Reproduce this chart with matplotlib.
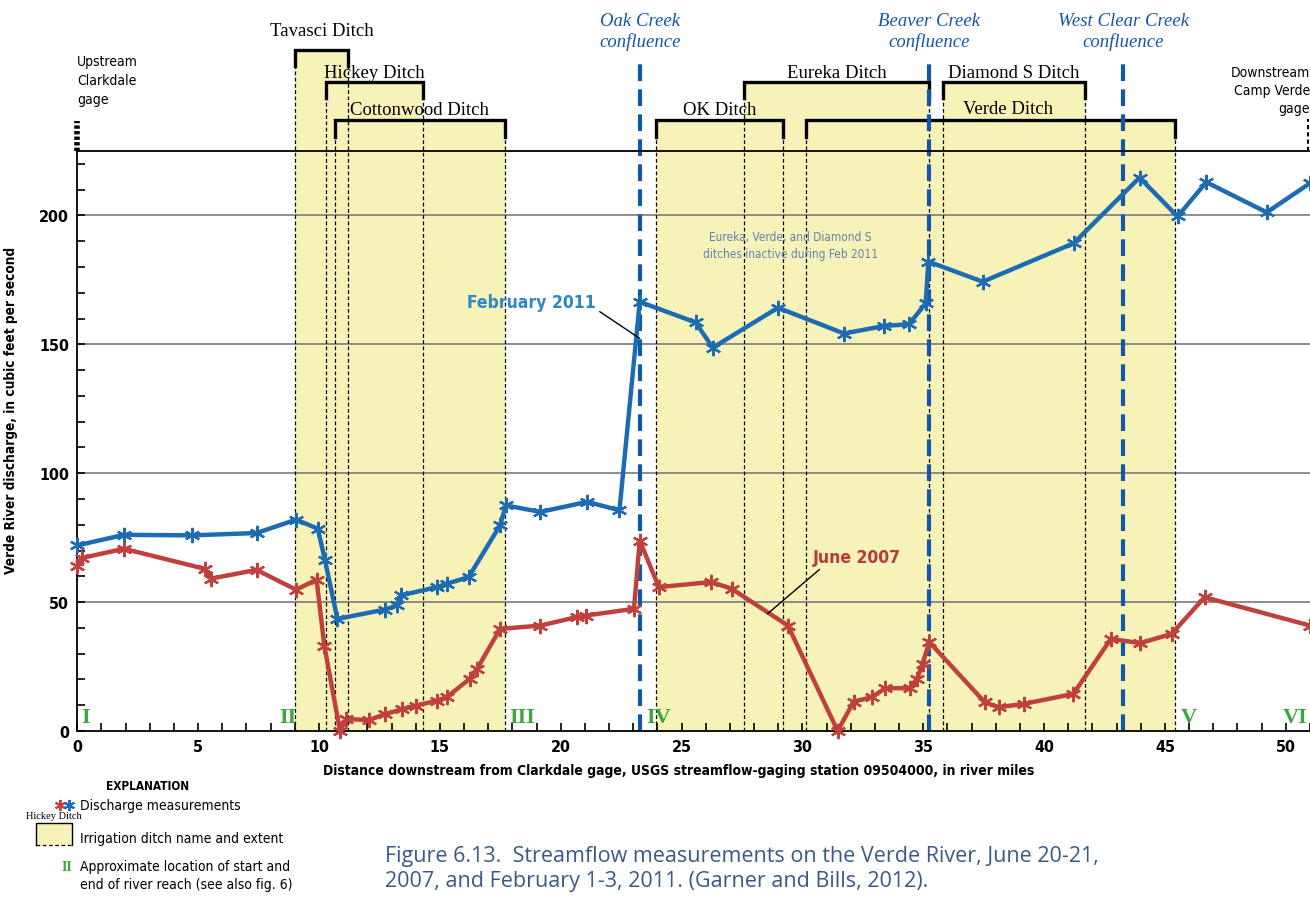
import matplotlib
matplotlib.use("Agg")
import matplotlib.pyplot as plt
from matplotlib.lines import Line2D
from matplotlib.patches import Rectangle
from matplotlib.ticker import MultipleLocator

# condensed sans for the axis text, serif for ditch / confluence names
plt.rcParams['font.family'] = ['DejaVu Sans']
plt.rcParams['font.stretch'] = 'condensed'
SERIF = ['Liberation Serif', 'DejaVu Serif']

# Discharge measurements, river miles downstream of the Clarkdale gage
feb_miles = [0, 1.93, 4.73, 7.42, 9.05, 9.95, 10.25, 10.76, 12.73, 13.22, 13.38,
             14.88, 15.28, 16.19, 17.49, 17.73, 19.16, 21.1, 22.43, 23.27, 25.58,
             26.29, 28.99, 31.72, 33.36, 34.41, 35.1, 35.21, 37.46, 41.22, 43.95,
             45.52, 46.71, 49.21, 51.0]
feb_cfs = [72.0, 76.1, 75.9, 76.8, 82.0, 78.5, 66.2, 43.5, 47.1, 48.7, 52.6,
           55.8, 57.1, 59.7, 79.8, 87.5, 85.0, 88.9, 85.6, 166.5, 158.5,
           148.7, 164.2, 154.2, 157.1, 157.8, 165.9, 182.1, 174.3, 189.2, 214.7,
           199.6, 212.9, 201.2, 212.5]

jun_miles = [0, 0.18, 1.93, 5.28, 5.52, 7.42, 9.05, 9.9, 10.22, 10.87, 11.12,
             12.05, 12.73, 13.45, 14.0, 14.88, 15.28, 16.23, 16.54, 17.49, 19.16,
             20.66, 21.05, 23.03, 23.27, 24.06, 26.22, 27.07, 29.4, 31.46, 32.12,
             32.87, 33.43, 34.46, 34.74, 34.97, 35.25, 37.55, 38.12, 39.15, 41.21,
             42.76, 43.98, 45.28, 46.64, 51.0]
jun_cfs = [64.2, 67.1, 70.7, 62.9, 59.1, 62.5, 54.8, 58.7, 33.1, 0.0, 4.7,
           4.2, 6.5, 8.5, 9.8, 11.8, 13.1, 20.2, 24.1, 39.6, 40.9,
           44.2, 44.8, 47.4, 73.9, 55.8, 57.8, 55.2, 40.9, 0.0, 11.4,
           13.1, 16.6, 16.6, 20.2, 26.0, 34.5, 11.1, 9.2, 10.5, 14.4,
           35.7, 34.1, 37.7, 51.9, 40.9]

# Irrigation ditches (start / end river mile)
ditch_names = ["Tavasci Ditch", "Hickey Ditch", "Cottonwood Ditch", "OK Ditch",
               "Eureka Ditch", "Diamond S Ditch", "Verde Ditch"]
ditch_start = [9.0, 10.3, 10.65, 23.95, 27.6, 35.8, 30.15]
ditch_end = [11.2, 14.3, 17.7, 29.2, 35.22, 41.7, 45.4]

# Tributary confluences
confluence_names = ["Oak Creek", "Beaver Creek", "West Clear Creek"]
confluence_miles = [23.27, 35.24, 43.27]

# River reach markers
reach_names = ["I", "II", "III", "IV", "V", "VI"]
reach_miles = [0.35, 8.7, 18.4, 24.05, 46.0, 50.4]

BLUE = "#1D6CB3"
RED = "#C0403E"
YELLOW = "#F7F2B8"
CONF_BLUE = "#1257AE"
GREEN = "#3AA83A"

fig = plt.figure(figsize=(13.1, 9.03), dpi=100)
ax = fig.add_axes([77.3 / 1310, 171 / 903, 1232.7 / 1310, 580 / 903])
ax.set_xlim(0, 51)
ax.set_ylim(0, 225)
tr = ax.get_xaxis_transform()

# ditch bracket tiers in axes fraction: top of bracket, text centre
tier_top = [1.175, 1.119, 1.053, 1.053, 1.119, 1.119, 1.053]
tier_text = [1.207, 1.136, 1.071, 1.071, 1.136, 1.136, 1.074]
leg = 0.028
for i, name in enumerate(ditch_names):
    s, e, top = ditch_start[i], ditch_end[i], tier_top[i]
    ax.add_patch(Rectangle((s, 0), e - s, top, transform=tr, facecolor=YELLOW,
                           edgecolor='none', clip_on=False, zorder=0.1))
for i, name in enumerate(ditch_names):
    s, e, top = ditch_start[i], ditch_end[i], tier_top[i]
    ax.plot([s, s, e, e], [top - leg, top, top, top - leg], transform=tr,
            color='black', lw=2.4, clip_on=False, zorder=2, solid_joinstyle='miter')
    for xe in (s, e):
        ax.plot([xe, xe], [0, top - leg], transform=tr, color='black', lw=0.9,
                ls=(0, (3, 2)), clip_on=False, zorder=1)
    xt = 38.5 if name == "Verde Ditch" else (s + e) / 2
    ax.text(xt, tier_text[i], name, transform=tr, ha='center', va='center',
            family=SERIF, fontstretch='normal', fontsize=13.5, clip_on=False)

# confluence lines and labels
for name, m in zip(confluence_names, confluence_miles):
    ax.plot([m, m], [0, 1.162], transform=tr, color=CONF_BLUE, lw=3,
            ls=(0, (4, 2)), clip_on=False, zorder=2.5)
    ax.text(m, 1.207, name + "\nconfluence", transform=tr, ha='center', va='center',
            family=SERIF, fontstretch='normal', style='italic', fontsize=13.5,
            color=CONF_BLUE, linespacing=1.25, clip_on=False)

# gage markers
ax.plot([0, 0], [1.0, 1.052], transform=tr, color='black', lw=4,
        ls=(0, (0.6, 0.4)), clip_on=False)
ax.text(0, 1.122, "Upstream\nClarkdale\ngage", transform=tr, ha='left', va='center',
        fontsize=10, linespacing=1.45, clip_on=False)
ax.plot([50.93, 50.93], [1.0, 1.055], transform=tr, color='black', lw=1.5,
        ls=(0, (2, 1.5)), clip_on=False)
ax.text(51, 1.105, "Downstream\nCamp Verde\ngage", transform=tr, ha='right',
        va='center', fontsize=10, linespacing=1.35, clip_on=False)

# grid and frame
for yv in (50, 100, 150, 200):
    ax.axhline(yv, color='#7a7a7a', lw=1.2, zorder=0.5)
for side in ('left', 'bottom', 'top'):
    ax.spines[side].set_linewidth(1.3)
ax.spines['right'].set_visible(False)

# discharge series
ax.plot(feb_miles, feb_cfs, color=BLUE, lw=3.2, marker=(6, 2, 0), ms=11, mew=1.6,
        zorder=4, clip_on=False)
ax.plot(jun_miles, jun_cfs, color=RED, lw=3.2, marker=(6, 2, 0), ms=11, mew=1.6,
        zorder=4, clip_on=False)

ax.annotate("February 2011", xy=(23.27, 152.3), xytext=(21.45, 166.5), ha='right',
            va='center', fontsize=12.5, fontweight='bold', color="#2F86C4",
            arrowprops=dict(arrowstyle='-', lw=1, color='black', relpos=(1.0, 0.1),
                            shrinkA=1, shrinkB=0), zorder=5)
ax.annotate("June 2007", xy=(28.56, 45.5), xytext=(30.45, 67.6), ha='left',
            va='center', fontsize=12.5, fontweight='bold', color="#B83A3A",
            arrowprops=dict(arrowstyle='-', lw=1, color='black', relpos=(0.12, 0.0),
                            shrinkA=1, shrinkB=0), zorder=5)
ax.text(29.5, 188.4, "Eureka, Verde, and Diamond S\nditches inactive during Feb 2011",
        ha='center', va='center', fontsize=8.5, color="#5E82AE", linespacing=1.4)

for name, m in zip(reach_names, reach_miles):
    ax.text(m, 5.4, name, ha='center', va='center', family=SERIF, fontstretch='normal',
            fontweight='bold', fontsize=16, color=GREEN, zorder=5)

# ticks and labels
ax.xaxis.set_major_locator(MultipleLocator(5))
ax.xaxis.set_minor_locator(MultipleLocator(1))
ax.yaxis.set_minor_locator(MultipleLocator(10))
ax.set_yticks([0, 50, 100, 150, 200])
ax.tick_params(which='both', direction='in', length=5.5, width=1.2)
ax.tick_params(axis='x', which='major', pad=5.5, labelsize=11.5)
ax.tick_params(axis='y', which='major', pad=6, labelsize=11.5)
for lab in ax.get_xticklabels() + ax.get_yticklabels():
    lab.set_fontweight('bold')

ax.set_xlabel("Distance downstream from Clarkdale gage, USGS streamflow-gaging station "
              "09504000, in river miles", fontsize=10, fontweight='bold')
ax.xaxis.set_label_coords(0.488, -0.055)
ax.set_ylabel("Verde River discharge, in cubic feet per second", fontsize=9.8,
              fontweight='bold')
ax.yaxis.set_label_coords(-0.048, 0.555)

# explanation block
W, H = 1310.0, 903.0
fig.text(148 / W, 1 - 787 / H, "EXPLANATION", ha='center', va='center',
         fontsize=8.5, fontweight='bold')
fig.add_artist(Line2D([60 / W], [1 - 806 / H], transform=fig.transFigure, ls='none',
                      marker=(6, 2, 0), ms=8, mew=1.4, color=RED))
fig.add_artist(Line2D([69 / W], [1 - 806 / H], transform=fig.transFigure, ls='none',
                      marker=(6, 2, 0), ms=8, mew=1.4, color=BLUE))
fig.text(80 / W, 1 - 806 / H, "Discharge measurements", ha='left', va='center',
         fontsize=10)
fig.text(54 / W, 1 - 817 / H, "Hickey Ditch", ha='center', va='center',
         family=SERIF, fontstretch='normal', fontsize=7.5)
fig.add_artist(Rectangle((36 / W, 1 - 846 / H), 36 / W, 22 / H,
                         transform=fig.transFigure, facecolor=YELLOW, edgecolor='none'))
fig.add_artist(Line2D([36 / W, 36 / W, 72 / W, 72 / W],
                      [1 - 846 / H, 1 - 824 / H, 1 - 824 / H, 1 - 846 / H],
                      transform=fig.transFigure, color='black', lw=1))
fig.add_artist(Line2D([36 / W, 72 / W], [1 - 846 / H, 1 - 846 / H],
                      transform=fig.transFigure, color='black', lw=0.9, ls=(0, (3, 2))))
fig.text(80 / W, 1 - 839 / H, "Irrigation ditch name and extent", ha='left',
         va='center', fontsize=10)
fig.text(67 / W, 1 - 868 / H, "II", ha='center', va='center', family=SERIF,
         fontstretch='normal', fontweight='bold', fontsize=10, color=GREEN)
fig.text(80 / W, 1 - 876 / H,
         "Approximate location of start and\nend of river reach (see also fig. 6)",
         ha='left', va='center', fontsize=10, linespacing=1.35)

fig.text(385 / W, 1 - 869 / H,
         "Figure 6.13.  Streamflow measurements on the Verde River, June 20-21,\n"
         "2007, and February 1-3, 2011. (Garner and Bills, 2012).",
         ha='left', va='center', family=['Open Sans', 'DejaVu Sans'], fontsize=15.5,
         fontstretch='normal', color="#3A5A85", linespacing=1.3)

fig.savefig("out.png", dpi=100, facecolor='white')
